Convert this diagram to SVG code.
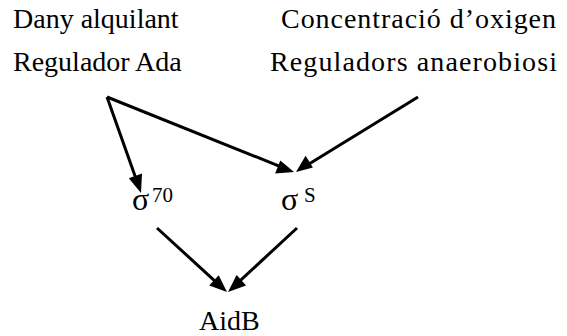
<svg xmlns="http://www.w3.org/2000/svg" width="567" height="336" viewBox="0 0 567 336">
<style>
text { fill: #000; }
.lbl { font-family: "Liberation Serif", serif; font-size: 28px; }
.sig { font-family: "Liberation Serif", serif; font-size: 32px; }
.sup { font-family: "Liberation Serif", serif; font-size: 21px; }
.edge { stroke: #000; stroke-width: 3; fill: none; }
.head { fill: #000; stroke: none; }
</style>
<rect width="567" height="336" fill="#fff"/>
<g id="dany"><text class="lbl" x="13" y="28">Dany alquilant</text></g>
<g id="concentracio"><text class="lbl" x="281" y="28" textLength="275">Concentració d’oxigen</text></g>
<g id="ada"><text class="lbl" x="13" y="71">Regulador Ada</text></g>
<g id="anaerobiosi"><text class="lbl" x="270" y="71" textLength="287">Reguladors anaerobiosi</text></g>
<g id="sigma70"><text class="sig" x="132" y="210">σ</text><text class="sup" x="152" y="202">70</text></g>
<g id="sigmaS"><text class="sig" x="281" y="210">σ</text><text class="sup" x="304" y="202">S</text></g>
<g id="aidb"><text class="lbl" x="199" y="330">AidB</text></g>
<g id="connectors">
<line class="edge" x1="107" y1="97" x2="137.7" y2="183.6"/>
<polygon class="head" points="141,193 128.8,178.3 142.0,173.6"/>
<line class="edge" x1="107" y1="97" x2="284.7" y2="168.3"/>
<polygon class="head" points="294,172 275.1,173.5 280.3,160.5"/>
<line class="edge" x1="418" y1="97" x2="304.5" y2="166.8"/>
<polygon class="head" points="296,172 305.6,155.7 312.9,167.6"/>
<line class="edge" x1="157" y1="228" x2="219.6" y2="285.3"/>
<polygon class="head" points="227,292 209.2,285.6 218.7,275.3"/>
<line class="edge" x1="297" y1="228" x2="235.3" y2="285.2"/>
<polygon class="head" points="228,292 236.6,275.1 246.1,285.4"/>
</g>
</svg>
